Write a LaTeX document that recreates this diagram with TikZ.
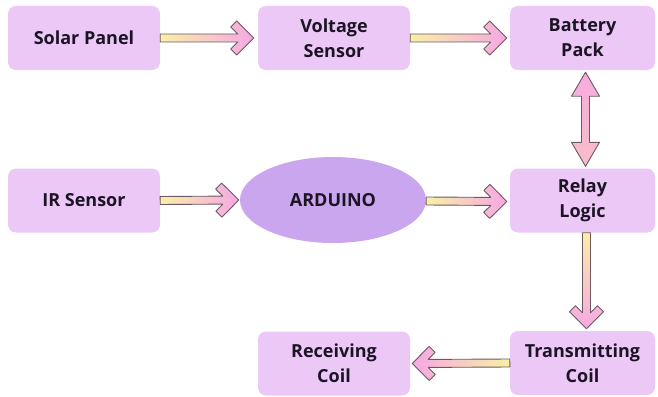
\documentclass[tikz,border=0pt]{standalone}
\usepackage{fontspec}
\setmainfont{Open Sans}
\usetikzlibrary{shapes.geometric,calc}
\definecolor{boxfill}{RGB}{236,200,246}
\definecolor{ellfill}{RGB}{201,166,238}
\definecolor{txt}{RGB}{28,20,36}
\definecolor{arrline}{RGB}{110,88,100}
\definecolor{arryel}{RGB}{248,240,165}
\definecolor{arrpink}{RGB}{246,168,228}
\definecolor{arrpeach}{RGB}{247,190,200}

% chevron arrow: #1 start, #2 end, #3 shading options
\newcommand\chevarrow[3]{%
  \path[draw=arrline, line width=0.9pt, line join=round, #3]
    let \p1=#1, \p2=#2,
        \n1={veclen(\x2-\x1,\y2-\y1)},
        \n2={atan2(\y2-\y1,\x2-\x1)} in
    [shift={(\p1)}, rotate=\n2]
    (0,4) -- ({\n1-16},4) -- ({\n1-23},11) -- ({\n1-17},17) -- ({\n1},0)
    -- ({\n1-17},-17) -- ({\n1-23},-11) -- ({\n1-16},-4) -- (0,-4) -- cycle;}

% double arrow with triangular heads
\newcommand\dblarrow[3]{%
  \path[draw=arrline, line width=0.9pt, line join=round, #3]
    let \p1=#1, \p2=#2,
        \n1={veclen(\x2-\x1,\y2-\y1)},
        \n2={atan2(\y2-\y1,\x2-\x1)} in
    [shift={(\p1)}, rotate=\n2]
    (0,0) -- (24,14) -- (24,4) -- ({\n1-24},4) -- ({\n1-24},14) -- ({\n1},0)
    -- ({\n1-24},-14) -- ({\n1-24},-4) -- (24,-4) -- (24,-14) -- cycle;}

\begin{document}
\begin{tikzpicture}[x=1pt,y=-1pt,
  blk/.style={rectangle, rounded corners=8pt, fill=boxfill, draw=none,
    minimum width=152pt, minimum height=64pt, inner sep=0pt,
    align=center, text=txt, font=\fontsize{18}{25}\selectfont\bfseries},
  blkr/.style={blk, minimum width=145pt},
  ell/.style={ellipse, fill=ellfill, draw=none, minimum width=186pt,
    minimum height=86pt, inner sep=0pt, text=txt,
    font=\fontsize{18}{25}\selectfont\bfseries}]
\fill[white] (0,0) rectangle (658,396);
\useasboundingbox (0,0) rectangle (658,396);

\node[blk]  (solar) at (84,38)     {Solar Panel};
\node[blk]  (volt)  at (334,38)    {Voltage\\Sensor};
\node[blkr] (batt)  at (582.5,38)  {Battery\\Pack};
\node[blk]  (ir)    at (84,200.5)  {IR Sensor};
\node[ell]  (ard)   at (333,200)   {ARDUINO};
\node[blkr] (relay) at (582.5,200.5) {Relay\\Logic};
\node[blkr] (trans) at (582.5,363) {Transmitting\\Coil};
\node[blk]  (recv)  at (334,363.5) {Receiving\\Coil};

\chevarrow{(solar.east)}{([xshift=-4pt]volt.west)}{left color=arryel, right color=arrpink}
\chevarrow{(volt.east)}{([xshift=-3pt]batt.west)}{left color=arryel, right color=arrpink}
\chevarrow{(ir.east)}{([xshift=-1pt]ard.west)}{left color=arryel, right color=arrpink}
\chevarrow{([yshift=-1pt]ard.east)}{([xshift=-3pt,yshift=-1pt]relay.west)}{left color=arryel, right color=arrpink}
\chevarrow{([xshift=4pt]relay.south)}{([xshift=4pt,yshift=2pt]trans.north)}{top color=arryel, bottom color=arrpink}
\chevarrow{(trans.west)}{([xshift=2pt]recv.east)}{right color=arryel, left color=arrpink}
\dblarrow{([xshift=3pt,yshift=-2pt]batt.south)}{([xshift=3pt,yshift=2pt]relay.north)}{top color=arrpink!80!arrpeach, bottom color=arrpeach}
\end{tikzpicture}
\end{document}
